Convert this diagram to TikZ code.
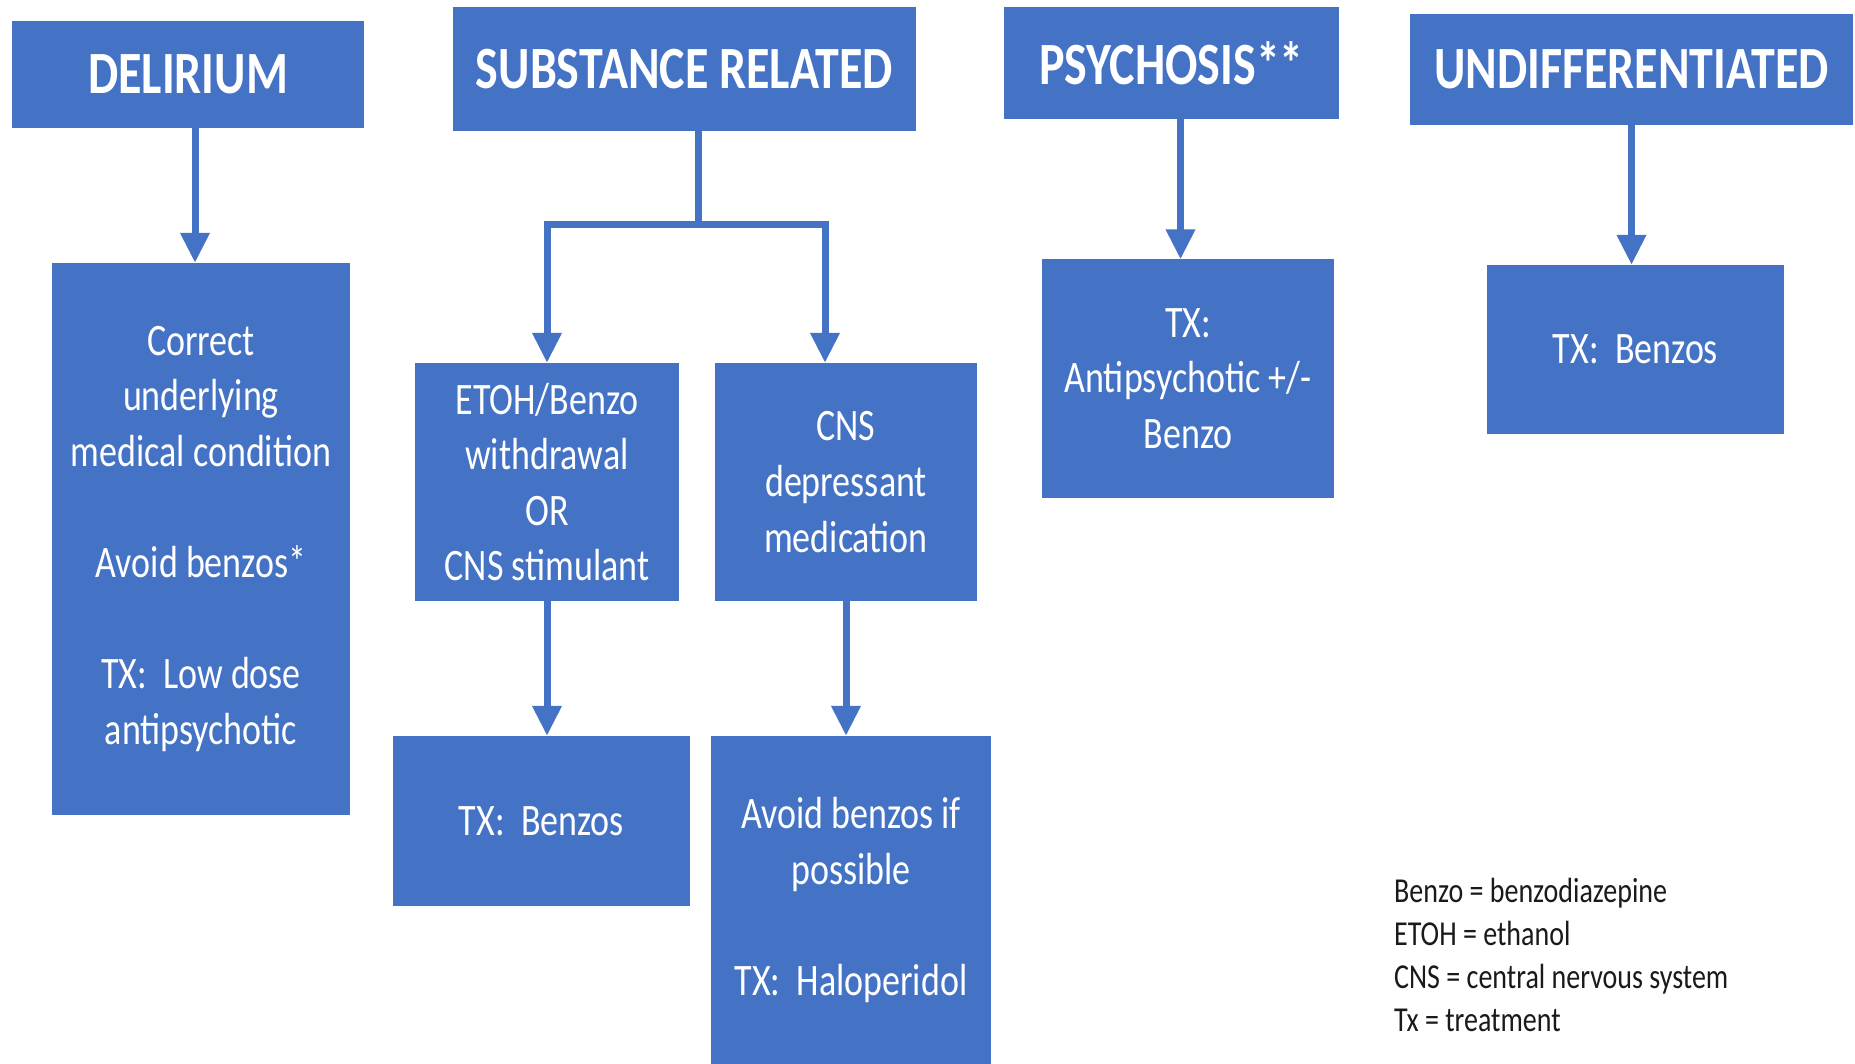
\documentclass[tikz,border=0pt]{standalone}
\usepackage{fontspec}
\setmainfont{Carlito}[FakeStretch=0.8]
\usetikzlibrary{arrows.meta}
\definecolor{boxblue}{HTML}{4472C4}
\definecolor{legendtext}{HTML}{1A1A1A}
\tikzset{
  box/.style={draw=none, fill=boxblue, text=white, align=center, inner sep=0pt},
  hdr/.style={box, font=\fontsize{60}{70}\selectfont\bfseries},
  body/.style={box, font=\fontsize{45}{55.6}\selectfont},
  conn/.style={draw=boxblue, line width=7pt},
  arr/.style={conn, -{Triangle[length=30pt,width=28pt]}},
}
\begin{document}
\begin{tikzpicture}[x=1pt,y=-1pt]
\useasboundingbox[fill=white] (0,0) rectangle (1855,1064);
% headers
\node[hdr, minimum width=352pt, minimum height=107pt] (del) at (188,74.5) {DELIRIUM};
\node[hdr, minimum width=463pt, minimum height=124pt] (sub) at (684.5,69) {SUBSTANCE RELATED};
\node[hdr, minimum width=335pt, minimum height=112pt] (psy) at (1171.5,63) {PSYCHOSIS**};
\node[hdr, minimum width=443pt, minimum height=111pt] (und) at (1631.5,69.5) {UNDIFFERENTIATED};
% second level
\node[body, minimum width=298pt, minimum height=552pt] (delc) at (201,539) {\raisebox{-4pt}{\parbox{290pt}{\centering Correct\\underlying\\medical condition\\[55.6pt]Avoid benzos*\\[55.6pt]TX:\ \ Low dose\\antipsychotic}}};
\node[body, minimum width=264pt, minimum height=238pt] (etoh) at (547,482) {ETOH/Benzo\\withdrawal\\OR\\CNS stimulant};
\node[body, minimum width=262pt, minimum height=238pt] (cns) at (846,482) {CNS\\depressant\\medication};
\node[body, minimum width=292pt, minimum height=238pt] (psyc) at (1188,378.5) {TX:\\Antipsychotic +/-\\Benzo};
\node[body, minimum width=297pt, minimum height=169pt] (undc) at (1635.5,349.5) {TX:\ \ Benzos};
% third level
\node[body, minimum width=297pt, minimum height=170pt] (txb) at (541.5,821) {TX:\ \ Benzos};
\node[body, minimum width=280pt, minimum height=328pt] (avoid) at (851,900) {Avoid benzos if\\possible\\[55.6pt]TX:\ \ Haloperidol};
% legend
\node[anchor=base west, inner sep=0pt, align=left, text=legendtext, font=\fontsize{35}{43}\selectfont] (legend) at (1394,1031) {Benzo = benzodiazepine\\ETOH = ethanol\\CNS = central nervous system\\Tx = treatment};
% connectors
\draw[arr] ([xshift=7pt]del.south) -- ([xshift=7pt]del.south |- delc.north);
\coordinate (j) at (698,225);
\coordinate (jr) at (825,225);
\draw[conn] (sub.south -| j) -- (j);
\draw[arr] (j) -| (etoh.north);
\draw[arr] (j) -- (jr) -- (jr |- cns.north);
\draw[arr] (etoh.south) -- (etoh.south |- txb.north);
\draw[arr] (cns.south) -- (cns.south |- avoid.north);
\draw[arr] ([xshift=9pt]psy.south) -- ([xshift=9pt]psy.south |- psyc.north);
\draw[arr] (und.south) -- (und.south |- undc.north);
\end{tikzpicture}
\end{document}
